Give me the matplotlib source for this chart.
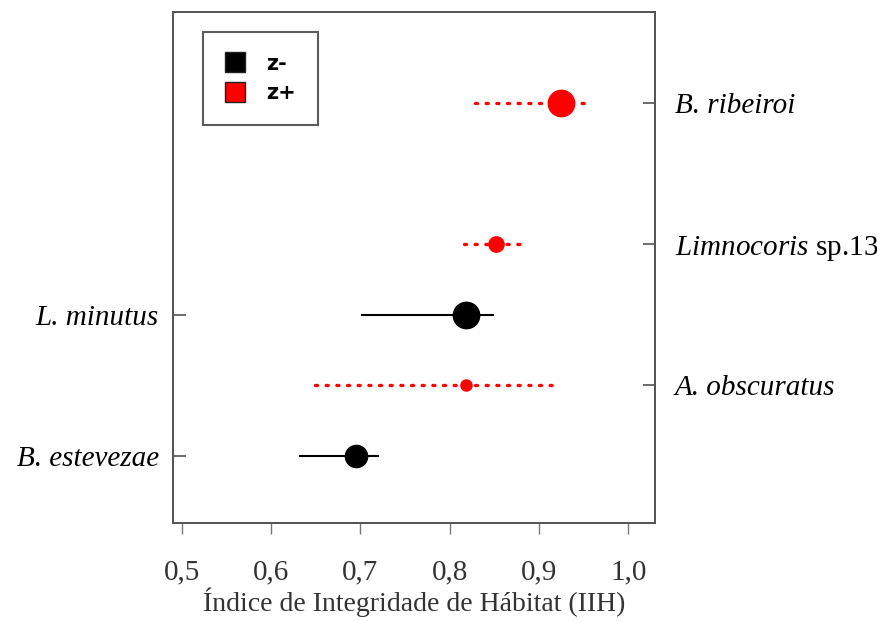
import matplotlib

matplotlib.use("Agg")
import matplotlib.pyplot as plt
from matplotlib.lines import Line2D

plt.rcParams["font.family"] = "Liberation Serif"
plt.rcParams["mathtext.fontset"] = "custom"
plt.rcParams["mathtext.rm"] = "Liberation Serif"
plt.rcParams["mathtext.it"] = "Liberation Serif:italic"

# --- data ---------------------------------------------------------------------------------------
# black = z-, red = z+ ; y position is the row on the plot (row 5 is empty)
zm_names = ["B. estevezae", "L. minutus"]
zm_rows = [1, 3]
zm_mean = [0.695, 0.818]
zm_lo = [0.632, 0.702]
zm_hi = [0.720, 0.848]
zm_size = [16, 19]

zp_names = ["A. obscuratus", r"$\mathit{Limnocoris}$ sp.13", "B. ribeiroi"]
zp_italic = [True, False, True]
zp_rows = [2, 4, 6]
zp_mean = [0.818, 0.852, 0.925]
zp_lo = [0.649, 0.816, 0.828]
zp_hi = [0.917, 0.880, 0.952]
zp_size = [8, 11, 19]

xticks = [0.5, 0.6, 0.7, 0.8, 0.9, 1.0]
xtick_labels = ["0,5", "0,6", "0,7", "0,8", "0,9", "1,0"]

fig = plt.figure(figsize=(8.77, 6.21), dpi=100)
ax = fig.add_axes([0.197, 0.158, 0.55, 0.823])

for y, m, lo, hi, s in zip(zm_rows, zm_mean, zm_lo, zm_hi, zm_size):
    ax.plot([lo, hi], [y, y], "-", color="black", lw=1.5, zorder=2)
    ax.plot(m, y, "o", color="black", ms=s, zorder=3)

for y, m, lo, hi, s in zip(zp_rows, zp_mean, zp_lo, zp_hi, zp_size):
    ax.plot([lo, hi], [y, y], color="red", lw=2.4, linestyle=(0, (0.6, 2.6)), dash_capstyle="round", zorder=2)
    ax.plot(m, y, "o", color="red", ms=s, zorder=3)

ax.set_xlim(0.49, 1.03)
ax.set_ylim(0.05, 7.29)
ax.set_xticks(xticks)
ax.set_xticklabels(xtick_labels, fontsize=21, color="#333333")
ax.tick_params(axis="x", direction="out", length=8, width=1, color="#777777", pad=18)
ax.set_yticks(zm_rows)
ax.set_yticklabels(zm_names, fontsize=21, style="italic")
ax.tick_params(axis="y", direction="in", length=9, width=1.2, color="#555555", pad=10)
ax.set_xlabel("Índice de Integridade de Hábitat (IIH)", fontsize=20, color="#333333", labelpad=2)

ax2 = ax.twinx()
ax2.set_ylim(ax.get_ylim())
ax2.set_yticks(zp_rows)
ax2.set_yticklabels(zp_names, fontsize=21)
for lbl, it in zip(ax2.get_yticklabels(), zp_italic):
    if it:
        lbl.set_fontstyle("italic")
ax2.tick_params(axis="y", direction="in", length=9, width=1.2, color="#555555", pad=14)

for a in (ax, ax2):
    for sp in a.spines.values():
        sp.set_color("#555555")
        sp.set_linewidth(1.3)

handles = [
    Line2D([], [], linestyle="none", marker="s", ms=14, mfc="black", mec="#222222", label="z-"),
    Line2D([], [], linestyle="none", marker="s", ms=14, mfc="red", mec="#222222", label="z+"),
]
leg = ax.legend(handles=handles, loc="upper left", bbox_to_anchor=(0.062, 0.961), borderaxespad=0,
                prop={"family": "DejaVu Sans", "weight": "bold", "size": 15}, fancybox=False,
                frameon=True, handlelength=1.0, handletextpad=1.0, borderpad=1.05, labelspacing=0.45)
leg.get_frame().set_edgecolor("#333333")
leg.get_frame().set_linewidth(1.5)

fig.savefig("out.png", dpi=100)
